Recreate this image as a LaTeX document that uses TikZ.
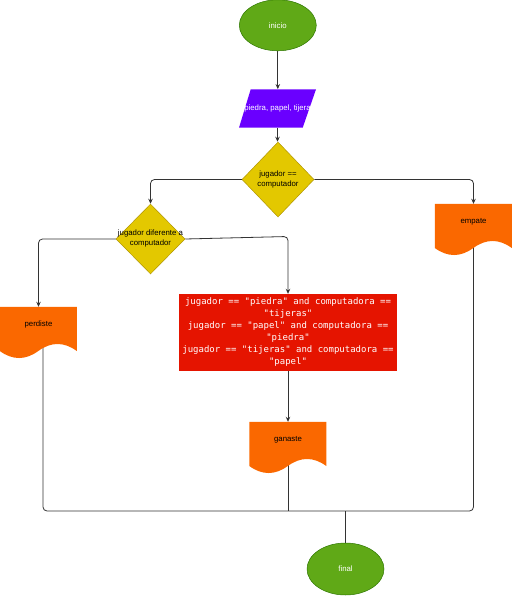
\documentclass[tikz,border=0pt]{standalone}
\usepackage{fontspec}
\setmainfont{Liberation Sans}
\setmonofont{DejaVu Sans Mono}
\usetikzlibrary{shapes.geometric,arrows.meta,calc}
\pgfdeclarelayer{background}
\pgfsetlayers{background,main}

\definecolor{termfill}{HTML}{60A917}
\definecolor{termline}{HTML}{2D7600}
\definecolor{iofill}{HTML}{6A00FF}
\definecolor{decfill}{HTML}{E3C800}
\definecolor{decline}{HTML}{B09500}
\definecolor{docfill}{HTML}{FA6800}
\definecolor{procfill}{HTML}{E51400}
\definecolor{wire}{HTML}{333333}

\tikzset{
  lbl/.style={font=\fontsize{7.8}{9.6}\selectfont, align=center, inner sep=0pt},
  terminal/.style={ellipse, fill=termfill, draw=termline, line width=0.5pt,
    minimum width=77pt, minimum height=51pt, inner sep=0pt, text=white,
    font=\fontsize{7.8}{9.6}\selectfont},
  decision/.style={diamond, fill=decfill, draw=decline, line width=0.5pt,
    inner sep=0pt},
  docbox/.style={rectangle, minimum width=77pt, minimum height=52pt, inner sep=0pt},
  process/.style={rectangle, fill=procfill, minimum width=218pt, minimum height=77pt,
    inner sep=0pt, text=white, align=center,
    font=\ttfamily\fontsize{9.0}{12}\selectfont},
  conn/.style={draw=wire, line width=0.8pt},
  flow/.style={conn, -{Stealth[length=5pt,width=4.5pt]}},
}

% document shape: box with a wavy lower edge, label near the top
\newcommand\flowdoc[4]{%
  \node[docbox] (#1) at (#2,#3+26) {};
  \fill[docfill, shift={(#1.north west)}]
    (0,0) -- (77,0) -- (77,44.2)
    .. controls (64.17,34.84) and (51.33,34.84) .. (38.5,44.2)
    .. controls (25.67,53.56) and (12.83,53.56) .. (0,44.2) -- cycle;
  \node[lbl] (#1-t) at ([yshift=-18pt]#1.north) {#4};
}

\begin{document}
\begin{tikzpicture}[x=1pt, y=-1pt]
\useasboundingbox (0,0) rectangle (513,596);

% start / end
\node[terminal] (inicio) at (277.8,25.3) {inicio};
\node[terminal, minimum height=52pt] (final) at (345.5,569) {final};

% input
\node[docbox, minimum height=38.4pt] (io) at (277.5,108.5) {};
\fill[iofill] (250.7,89.3) -- (316,89.3) -- (302.7,127.7) -- (239,127.7) -- cycle;
\node[lbl, text=white] (io-t) at (io) {piedra, papel, tijera};

% decisions
\node[decision, minimum width=72pt, minimum height=75pt] (d1) at (278,179.5) {};
\node[lbl] (d1-t) at (d1) {jugador ==\\computador};
\node[decision, minimum width=69pt, minimum height=70pt] (d2) at (150.5,239) {};
\node[lbl] (d2-t) at ([yshift=0.5pt]d2.center) {jugador diferente a\\computador};

% outcomes
\flowdoc{empate}{473.5}{204}{empate}
\flowdoc{perd}{38.5}{307}{perdiste}
\flowdoc{gan}{288}{422}{ganaste}

% winning conditions
\node[process] (win) at (288,332.5) {jugador == "piedra" and computadora ==\\
"tijeras"\\
jugador == "papel" and computadora ==\\
"piedra"\\
jugador == "tijeras" and computadora ==\\
"papel"};

% connectors
\coordinate (d2r) at (288,236.5);
\coordinate (bus) at (345.5,511);
\coordinate (perd-o) at ($(perd.center)+(4.5,0)$);
\coordinate (gan-o) at (gan.center);
\coordinate (empate-o) at (empate.center);

\begin{pgfonlayer}{background}
\draw[flow] (inicio.south) -- (inicio.south |- io.north);
\draw[flow] (io.south) -- (io.south |- d1.north);
\draw[flow, rounded corners=4pt] (d1.west) -| (d2.north);
\draw[flow, rounded corners=4pt] (d1.east) -| (empate.north);
\draw[flow, rounded corners=4pt] (d2.west) -| (perd.north);
\draw[flow, rounded corners=4pt] (d2.east) -- (d2r) -- (win.north);
\draw[flow] (win.south) -- (gan.north);
\draw[conn, rounded corners=4pt] (perd-o) |- (bus);
\draw[conn, rounded corners=4pt] (empate-o) |- (bus);
\draw[conn] (gan-o) -- (gan-o |- bus);
\draw[conn] (bus) -- (final.north);
\end{pgfonlayer}
\end{tikzpicture}
\end{document}
